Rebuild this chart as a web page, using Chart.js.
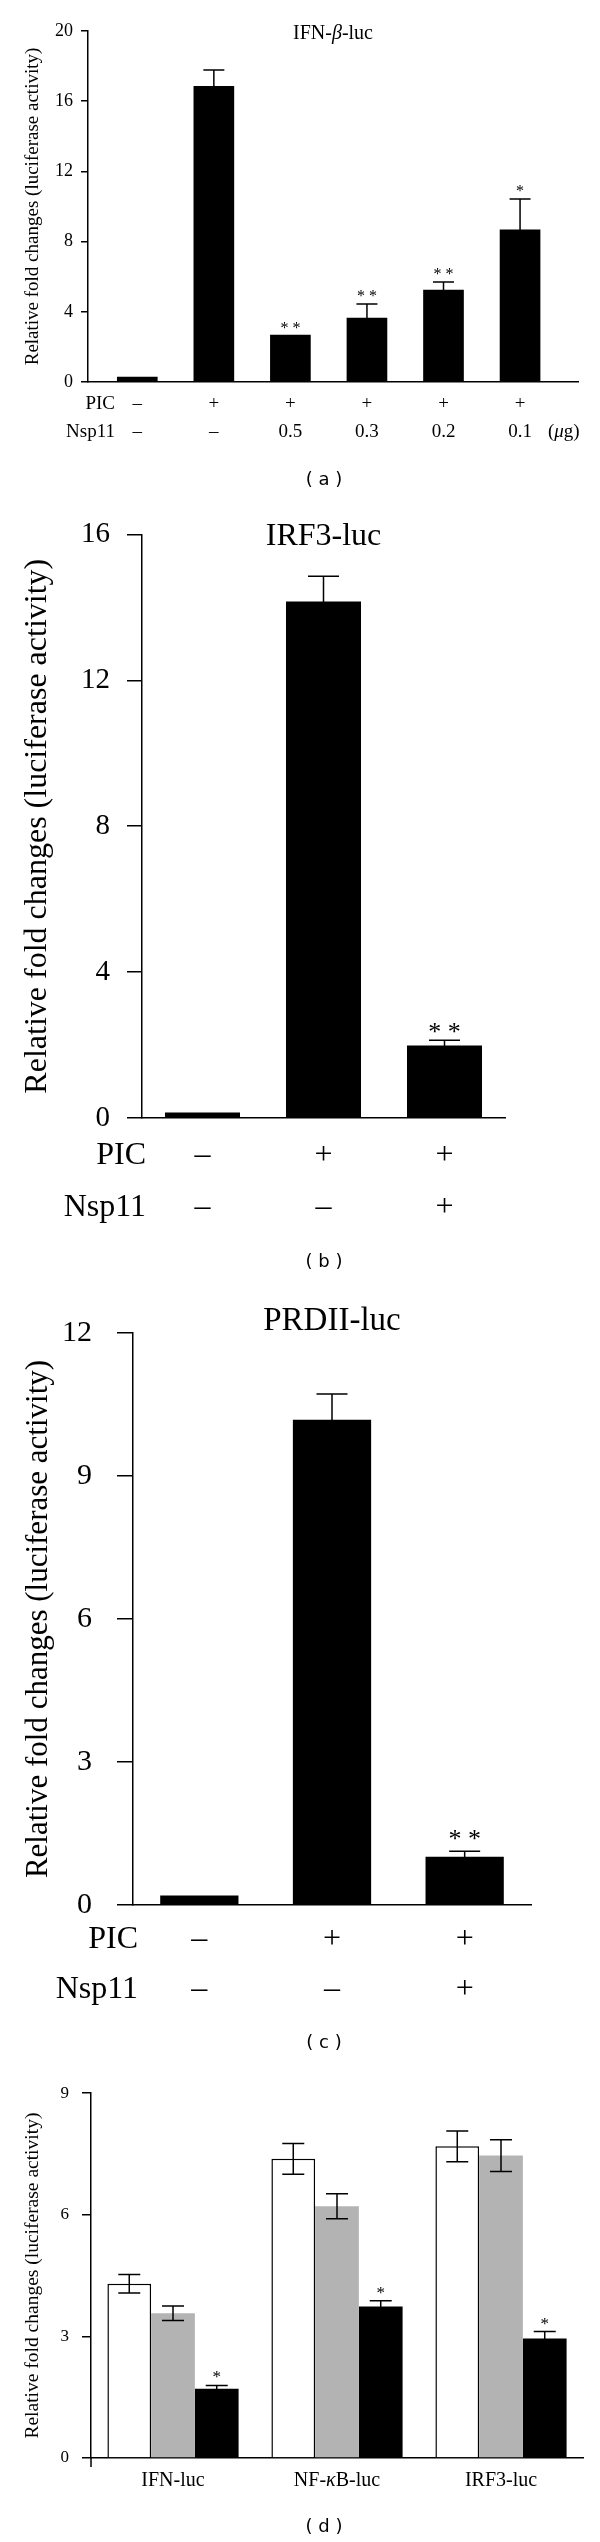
<!DOCTYPE html>
<html>
<head>
<meta charset="utf-8">
<script src="https://cdn.jsdelivr.net/npm/chart.js@4"></script>
<style>
  html, body { margin: 0; padding: 0; background: #fff; }
  #page { position: relative; width: 600px; height: 2542px; background: #fff; }
  canvas { position: absolute; left: 0; }
</style>
</head>
<body>
<div id="page">
  <canvas id="chartA" width="600" height="500" style="top:0px"></canvas>
  <canvas id="chartB" width="600" height="790" style="top:500px"></canvas>
  <canvas id="chartC" width="600" height="780" style="top:1290px"></canvas>
  <canvas id="chartD" width="600" height="472" style="top:2070px"></canvas>
</div>
<script>
// ===================== DATA =====================
const yTitle = 'Relative fold changes (luciferase activity)';
const captions = ['( a )', '( b )', '( c )', '( d )'];

// Panel (a): IFN-β-luc
const aTitle = 'IFN-β-luc';
const aRowHeaders = ['PIC', 'Nsp11'];
const aPIC = ['–', '+', '+', '+', '+', '+'];
const aNsp11 = ['–', '–', '0.5', '0.3', '0.2', '0.1'];
const aUnit = '(μg)';
const aValues = [0.28, 16.85, 2.67, 3.64, 5.24, 8.67];
const aErrors = [0, 0.93, 0, 0.81, 0.46, 1.76];
const aStars = ['', '', '**', '**', '**', '*'];
const aYMax = 20, aYStep = 4;

// Panel (b): IRF3-luc
const bTitle = 'IRF3-luc';
const bPIC = ['–', '+', '+'];
const bNsp11 = ['–', '–', '+'];
const bValues = [0.15, 14.16, 1.99];
const bErrors = [0, 0.69, 0.14];
const bStars = ['', '', '**'];
const bYMax = 16, bYStep = 4;

// Panel (c): PRDII-luc
const cTitle = 'PRDII-luc';
const cPIC = ['–', '+', '+'];
const cNsp11 = ['–', '–', '+'];
const cValues = [0.2, 10.18, 1.01];
const cErrors = [0, 0.54, 0.12];
const cStars = ['', '', '**'];
const cYMax = 12, cYStep = 3;

// Panel (d): three reporters, three conditions
const dCategories = ['IFN-luc', 'NF-κB-luc', 'IRF3-luc'];
const dWhite = [4.3, 7.38, 7.69];
const dWhiteErr = [0.23, 0.38, 0.38];
const dGray = [3.57, 6.21, 7.46];
const dGrayErr = [0.18, 0.31, 0.39];
const dBlack = [1.71, 3.74, 2.95];
const dBlackErr = [0.08, 0.14, 0.17];
const dStars = ['*', '*', '*'];
const dYMax = 9, dYStep = 3;

// ===================== RENDERING =====================
const SERIF = '"Liberation Serif", "Times New Roman", serif';
const SANS = '"DejaVu Sans", Verdana, sans-serif';
const GREEK = /[\u0370-\u03FF\u00B5]/;

function richText(ctx, text, x, y, size, family, align) {
  const runs = [];
  for (const ch of text) {
    const it = GREEK.test(ch);
    if (runs.length && runs[runs.length - 1].it === it) runs[runs.length - 1].t += ch;
    else runs.push({ t: ch, it });
  }
  const fontOf = it => (it ? 'italic ' : '') + size + 'px ' + family;
  let w = 0;
  runs.forEach(r => { ctx.font = fontOf(r.it); r.w = ctx.measureText(r.t).width; w += r.w; });
  let cx = align === 'center' ? x - w / 2 : (align === 'right' ? x - w : x);
  ctx.textAlign = 'left';
  runs.forEach(r => { ctx.font = fontOf(r.it); ctx.fillText(r.t, cx, y); cx += r.w; });
}

function decoPlugin(cfg) {
  return {
    id: 'deco' + cfg.name,
    afterDatasetsDraw(chart) {
      const ctx = chart.ctx, ys = chart.scales.y;
      ctx.save();
      ctx.strokeStyle = '#000'; ctx.fillStyle = '#000'; ctx.lineWidth = 1.5;
      cfg.errors.forEach((errs, di) => {
        const meta = chart.getDatasetMeta(di);
        const ds = chart.data.datasets[di];
        meta.data.forEach((el, i) => {
          const d = ds.data[i];
          const v = (typeof d === 'object') ? d.y : d;
          const e = errs[i] || 0;
          let topPx = ys.getPixelForValue(v);
          if (e > 0) {
            const t = ys.getPixelForValue(v + e);
            const b = ys.getPixelForValue(Math.max(0, v - e));
            const hw = cfg.capW / 2;
            ctx.beginPath();
            ctx.moveTo(el.x, b); ctx.lineTo(el.x, t);
            ctx.moveTo(el.x - hw, t); ctx.lineTo(el.x + hw, t);
            ctx.moveTo(el.x - hw, b); ctx.lineTo(el.x + hw, b);
            ctx.stroke();
            topPx = t;
          }
          const st = cfg.stars[di] && cfg.stars[di][i];
          if (st) {
            ctx.font = cfg.starSize + 'px ' + SERIF;
            ctx.textAlign = 'center'; ctx.textBaseline = 'alphabetic';
            ctx.fillText(st.split('').join(' '), el.x, topPx - cfg.starGap + 0.47 * cfg.starSize);
          }
        });
      });
      ctx.restore();
    },
    afterDraw(chart) {
      const ctx = chart.ctx, xs = chart.scales.x, A = chart.chartArea;
      const off = cfg.top;
      ctx.save();
      ctx.fillStyle = '#000'; ctx.strokeStyle = '#000';
      ctx.textBaseline = 'alphabetic';
      if (cfg.title) {
        richText(ctx, cfg.title, (A.left + A.right) / 2, cfg.titleY - off + 0.33 * cfg.titleSize, cfg.titleSize, SERIF, 'center');
      }
      cfg.rows.forEach(row => {
        const base = row.y - off + 0.33 * cfg.rowSize;
        if (row.header) richText(ctx, row.header, cfg.headerRight, base, cfg.rowSize, SERIF, 'right');
        row.items.forEach((t, i) => {
          richText(ctx, t, xs.getPixelForValue(i), base, cfg.rowSize, SERIF, 'center');
        });
        if (row.unit) richText(ctx, row.unit, cfg.unitLeft, base, cfg.rowSize, SERIF, 'left');
      });
      if (cfg.axisExt) {
        ctx.lineWidth = 1.5;
        ctx.beginPath();
        ctx.moveTo(A.left, A.bottom); ctx.lineTo(A.left, A.bottom + cfg.axisExt);
        ctx.stroke();
      }
      ctx.font = cfg.capSize + 'px ' + SANS;
      ctx.textAlign = 'center'; ctx.textBaseline = 'middle';
      ctx.fillText(cfg.caption, 324, cfg.capY - off);
      ctx.restore();
    }
  };
}

function buildChart(id, P) {
  const canvas = document.getElementById(id);
  const W = canvas.width, H = canvas.height;
  const A = P.area;
  return new Chart(canvas, {
    type: 'bar',
    data: { labels: P.labels, datasets: P.datasets },
    options: {
      responsive: false,
      animation: false,
      devicePixelRatio: 1,
      layout: { padding: { left: 0, top: A.t, right: W - A.r, bottom: H - A.b } },
      plugins: { legend: { display: false }, tooltip: { enabled: false }, title: { display: false } },
      scales: {
        x: Object.assign({
          display: true,
          ticks: { display: false },
          grid: { display: false },
          border: { display: true, color: '#000', width: 1.5 },
          afterFit: s => { s.height = 0; }
        }, P.xOpts || {}),
        y: {
          min: 0, max: P.yMax,
          ticks: { stepSize: P.yStep, color: '#000', padding: P.tickPad, font: { family: SERIF, size: P.tickSize } },
          grid: { display: true, drawOnChartArea: false, drawTicks: true, tickLength: P.tickLen, color: '#000', lineWidth: 1.5 },
          border: { display: true, color: '#000', width: 1.5 },
          title: {
            display: true, text: yTitle, color: '#000',
            font: { family: SERIF, size: P.yTitleSize, lineHeight: 1.2 },
            padding: { top: P.yTitleX - 0.6 * P.yTitleSize, bottom: 0 }
          },
          afterFit: s => { s.width = A.l; }
        }
      }
    },
    plugins: [decoPlugin(P.deco)]
  });
}

// ---- (a)
buildChart('chartA', {
  area: { l: 88, r: 578, t: 31, b: 382 },
  datasets: [{
    data: aValues.map((v, i) => ({ x: i, y: v })),
    backgroundColor: '#000', barThickness: 40
  }],
  xOpts: { type: 'linear', min: -0.644, max: 5.757, offset: false },
  yMax: aYMax, yStep: aYStep, tickSize: 18, tickLen: 7, tickPad: 8,
  yTitleSize: 19, yTitleX: 33,
  deco: {
    name: 'A', top: 0, errors: [aErrors], stars: [aStars], capW: 21, starSize: 16, starGap: 10,
    title: aTitle, titleY: 32, titleSize: 20,
    rowSize: 19, headerRight: 115, unitLeft: 548,
    rows: [
      { header: aRowHeaders[0], items: aPIC, y: 403 },
      { header: aRowHeaders[1], items: aNsp11, y: 431, unit: aUnit }
    ],
    caption: captions[0], capY: 480, capSize: 18
  }
});

// ---- (b)
buildChart('chartB', {
  labels: bValues.map((_, i) => i),
  area: { l: 142, r: 505, t: 33, b: 618 },
  datasets: [{ data: bValues, backgroundColor: '#000', barPercentage: 0.62, categoryPercentage: 1 }],
  yMax: bYMax, yStep: bYStep, tickSize: 29, tickLen: 15, tickPad: 17,
  yTitleSize: 32, yTitleX: 38,
  deco: {
    name: 'B', top: 500, errors: [bErrors], stars: [bStars], capW: 31, starSize: 26, starGap: 13,
    title: bTitle, titleY: 534, titleSize: 32,
    rowSize: 32, headerRight: 146,
    rows: [
      { header: aRowHeaders[0], items: bPIC, y: 1153 },
      { header: aRowHeaders[1], items: bNsp11, y: 1205 }
    ],
    caption: captions[1], capY: 1262, capSize: 18
  }
});

// ---- (c)
buildChart('chartC', {
  labels: cValues.map((_, i) => i),
  area: { l: 133, r: 531, t: 25, b: 615 },
  datasets: [{ data: cValues, backgroundColor: '#000', barPercentage: 0.59, categoryPercentage: 1 }],
  yMax: cYMax, yStep: cYStep, tickSize: 30, tickLen: 16, tickPad: 25,
  yTitleSize: 31, yTitleX: 39,
  deco: {
    name: 'C', top: 1290, errors: [cErrors], stars: [cStars], capW: 31, starSize: 26, starGap: 16,
    title: cTitle, titleY: 1319, titleSize: 33,
    rowSize: 32, headerRight: 138,
    rows: [
      { header: aRowHeaders[0], items: cPIC, y: 1937 },
      { header: aRowHeaders[1], items: cNsp11, y: 1987 }
    ],
    caption: captions[2], capY: 2043, capSize: 18
  }
});

// ---- (d)
buildChart('chartD', {
  labels: dCategories,
  area: { l: 91, r: 583, t: 21, b: 388 },
  datasets: [
    { data: dWhite, backgroundColor: '#ffffff', borderColor: '#000', borderWidth: 1.5, barPercentage: 1, categoryPercentage: 0.8 },
    { data: dGray, backgroundColor: '#b3b3b3', borderWidth: 0, barPercentage: 1, categoryPercentage: 0.8 },
    { data: dBlack, backgroundColor: '#000', barPercentage: 1, categoryPercentage: 0.8 }
  ],
  yMax: dYMax, yStep: dYStep, tickSize: 17, tickLen: 9, tickPad: 13,
  yTitleSize: 19.5, yTitleX: 33,
  deco: {
    name: 'D', top: 2070, errors: [dWhiteErr, dGrayErr, dBlackErr], stars: [[], [], dStars],
    capW: 22, starSize: 17, starGap: 11,
    title: null, rowSize: 20, headerRight: 0,
    rows: [{ header: null, items: dCategories, y: 2479 }],
    axisExt: 9,
    caption: captions[3], capY: 2527, capSize: 18
  }
});
</script>
</body>
</html>
